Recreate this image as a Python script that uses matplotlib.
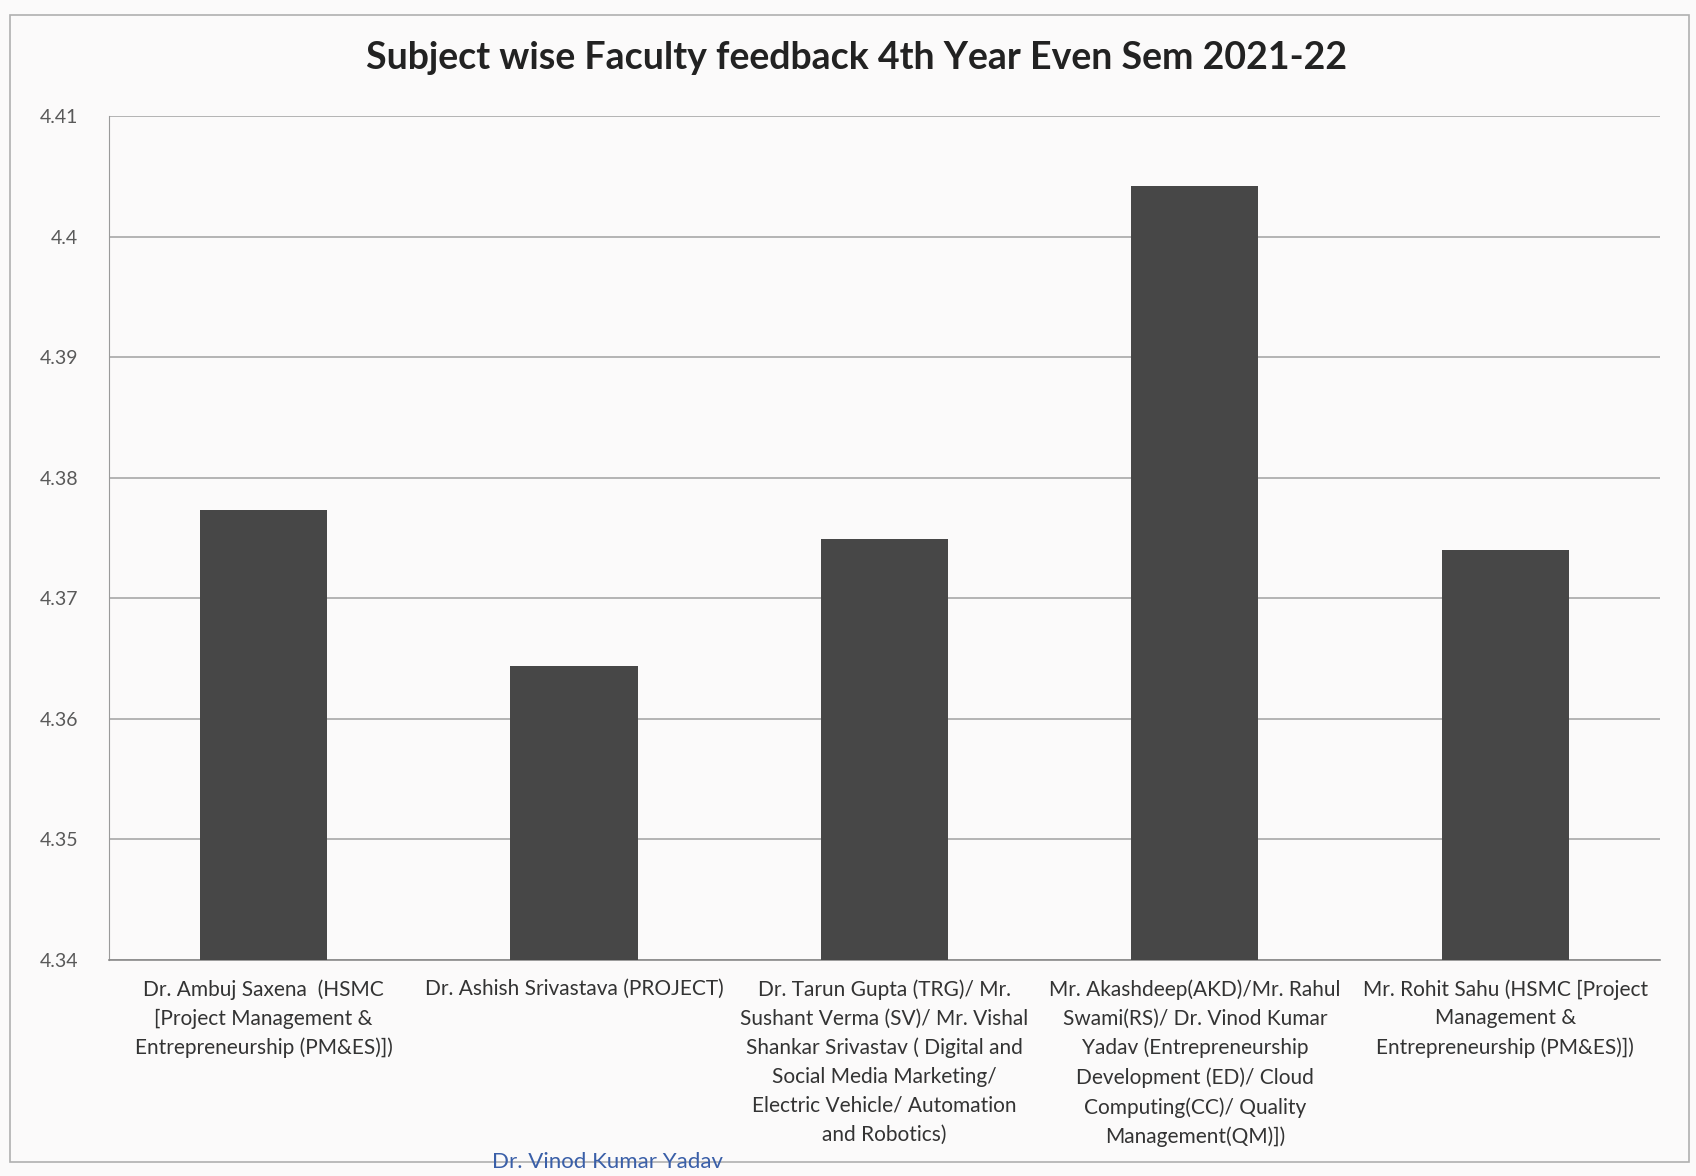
import matplotlib.pyplot as plt
from matplotlib.patches import Rectangle

# Data
faculty = [
    "Dr. Ambuj Saxena  (HSMC\n[Project Management &\nEntrepreneurship (PM&ES)])",
    "Dr. Ashish Srivastava (PROJECT)",
    "Dr. Tarun Gupta (TRG)/ Mr.\nSushant Verma (SV)/ Mr. Vishal\nShankar Srivastav ( Digital and\nSocial Media Marketing/\nElectric Vehicle/ Automation\nand Robotics)",
    "Mr. Akashdeep(AKD)/Mr. Rahul\nSwami(RS)/ Dr. Vinod Kumar\nYadav (Entrepreneurship\nDevelopment (ED)/ Cloud\nComputing(CC)/ Quality\nManagement(QM)])",
    "Mr. Rohit Sahu (HSMC [Project\nManagement &\nEntrepreneurship (PM&ES)])",
]
scores = [4.3773, 4.3644, 4.3749, 4.4042, 4.3740]
yticks = [4.34, 4.35, 4.36, 4.37, 4.38, 4.39, 4.40, 4.41]
ytick_labels = ["4.34", "4.35", "4.36", "4.37", "4.38", "4.39", "4.4", "4.41"]

plt.rcParams['font.family'] = ['Lato', 'DejaVu Sans']

fig = plt.figure(figsize=(16.96, 11.76), dpi=100)
fig.patch.set_facecolor("#fbfafa")
ax = fig.add_axes([0.064, 0.184, 0.915, 0.717])
ax.set_facecolor("#fbfafa")

x = list(range(len(scores)))
ax.bar(x, scores, width=0.41, color="#474747", zorder=3)

ax.set_ylim(4.34, 4.41)
ax.set_xlim(-0.5, len(scores) - 0.5)
ax.set_yticks(yticks)
ax.set_yticklabels(ytick_labels, fontsize=14, color="#595959")
ax.set_xticks(x)
ax.set_xticklabels(faculty, fontsize=15, color="#333333", linespacing=1.55)
ax.tick_params(axis="x", length=0, pad=14)
ax.tick_params(axis="y", length=0, pad=22)
ax.yaxis.grid(True, color="#a8a8a8", linewidth=1.2, zorder=0)

for side in ["top", "right"]:
    ax.spines[side].set_visible(False)
ax.spines["left"].set_color("#9a9a9a")
ax.spines["bottom"].set_color("#8a8a8a")
ax.spines["bottom"].set_linewidth(1.2)

fig.suptitle("Subject wise Faculty feedback 4th Year Even Sem 2021-22",
    fontsize=27, fontweight="bold", color="#222222", x=0.505, y=0.965)

# Outer chart border from the scan
fig.patches.append(Rectangle((0.006, 0.012), 0.99, 0.975, transform=fig.transFigure,
    fill=False, edgecolor="#b0b0b0", linewidth=1.2))

# Signature stamp near the bottom edge
fig.text(0.29, 0.003, "Dr. Vinod Kumar Yadav", fontsize=16, color="#3a5fa8",
    va="bottom", ha="left")

fig.savefig("out.png", dpi=100, facecolor=fig.get_facecolor())
